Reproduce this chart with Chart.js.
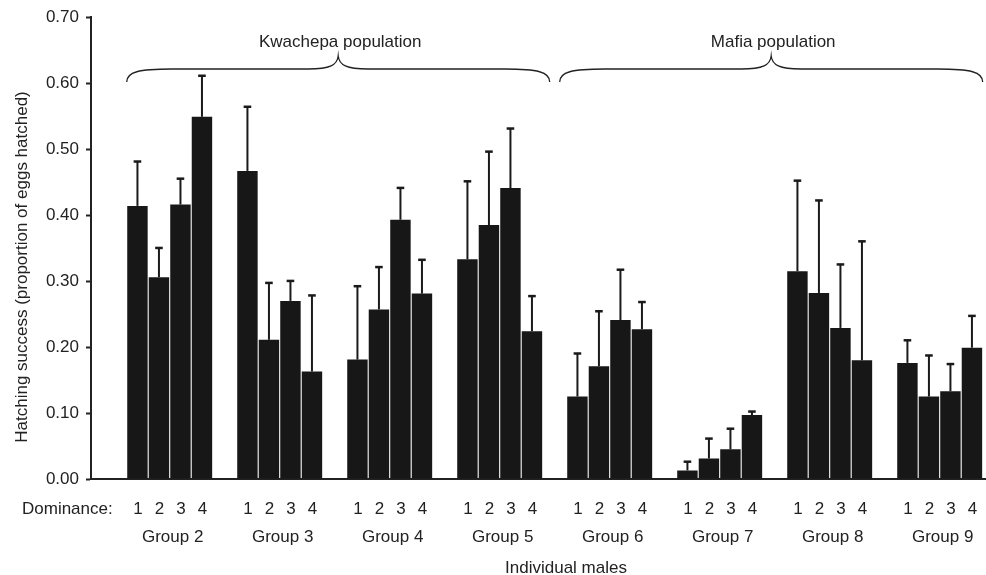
<!DOCTYPE html>
<html>
<head>
<meta charset="utf-8">
<script src="https://cdn.jsdelivr.net/npm/chart.js@4.4.1/dist/chart.umd.min.js"></script>
<style>
  html, body { margin: 0; padding: 0; background: #fff; }
</style>
</head>
<body>
<canvas id="chart" width="986" height="575"></canvas>
<script>
const groups = ["Group 2", "Group 3", "Group 4", "Group 5", "Group 6", "Group 7", "Group 8", "Group 9"]
const dominanceRanks = ["1", "2", "3", "4"]
const populations = ["Kwachepa population", "Mafia population"]
const populationGroups = [[0, 3], [4, 7]]
const yTicks = [0, 0.1, 0.2, 0.3, 0.4, 0.5, 0.6, 0.7]

// mean hatching success per group, one array per dominance rank
const rank1 = [0.414, 0.467, 0.181, 0.333, 0.125, 0.013, 0.315, 0.176]
const rank2 = [0.306, 0.211, 0.257, 0.385, 0.171, 0.031, 0.282, 0.125]
const rank3 = [0.416, 0.270, 0.393, 0.441, 0.241, 0.045, 0.229, 0.133]
const rank4 = [0.549, 0.163, 0.281, 0.224, 0.227, 0.097, 0.180, 0.199]

// upper error (SE)
const se1 = [0.068, 0.098, 0.112, 0.119, 0.066, 0.014, 0.138, 0.035]
const se2 = [0.045, 0.087, 0.065, 0.112, 0.084, 0.031, 0.141, 0.063]
const se3 = [0.040, 0.031, 0.049, 0.091, 0.077, 0.032, 0.097, 0.042]
const se4 = [0.063, 0.116, 0.052, 0.054, 0.042, 0.006, 0.181, 0.049]

const means = [rank1, rank2, rank3, rank4]
const errors = [se1, se2, se3, se4]

const FONT = '"Liberation Sans", Arial, Helvetica, sans-serif'
const INK = "#222"

const annotations = {
  id: "annotations",
  afterDatasetsDraw(chart) {
    const ctx = chart.ctx
    const x = chart.scales.x
    const y = chart.scales.y
    ctx.save()

    // error bars (upper only)
    ctx.strokeStyle = "#1a1a1a"
    means.forEach((values, i) => {
      const meta = chart.getDatasetMeta(i)
      meta.data.forEach((bar, j) => {
        const top = y.getPixelForValue(values[j] + errors[i][j])
        ctx.lineWidth = 2
        ctx.beginPath()
        ctx.moveTo(bar.x, bar.y)
        ctx.lineTo(bar.x, top)
        ctx.stroke()
        ctx.lineWidth = 2.5
        ctx.beginPath()
        ctx.moveTo(bar.x - 3.8, top + 0.5)
        ctx.lineTo(bar.x + 3.8, top + 0.5)
        ctx.stroke()
      })
    })

    // dominance digits under bars
    ctx.fillStyle = INK
    ctx.font = `17px ${FONT}`
    ctx.textBaseline = "alphabetic"
    ctx.textAlign = "center"
    means.forEach((values, i) => {
      chart.getDatasetMeta(i).data.forEach((bar) => {
        ctx.fillText(dominanceRanks[i], bar.x + 0.5, 514)
      })
    })
    ctx.textAlign = "left"
    ctx.fillText("Dominance:", 22, 514)

    // group labels
    ctx.textAlign = "center"
    groups.forEach((g, j) => {
      ctx.fillText(g, x.getPixelForValue(j) + 3, 542)
    })

    ctx.fillText("Individual males", 566, 573)

    // y axis title
    ctx.save()
    ctx.translate(22, 267)
    ctx.rotate(-Math.PI / 2)
    ctx.textBaseline = "middle"
    ctx.fillText("Hatching success (proportion of eggs hatched)", 0, 0)
    ctx.restore()

    // population braces
    ctx.strokeStyle = INK
    ctx.lineWidth = 1.3
    populationGroups.forEach(([a, b], k) => {
      const inner = 50, outer = 43
      const left = x.getPixelForValue(a) - (k === 0 ? outer : inner)
      const right = x.getPixelForValue(b) + (k === 0 ? inner : outer)
      const mid = (left + right) / 2
      const yEnd = 82, yMid = 69, yPeak = 56
      ctx.beginPath()
      ctx.moveTo(left, yEnd)
      ctx.bezierCurveTo(left, yMid + 3, left + 12, yMid, left + 45, yMid)
      ctx.lineTo(mid - 30, yMid)
      ctx.bezierCurveTo(mid - 8, yMid, mid - 1, yMid - 4, mid, yPeak)
      ctx.bezierCurveTo(mid + 1, yMid - 4, mid + 8, yMid, mid + 30, yMid)
      ctx.lineTo(right - 45, yMid)
      ctx.bezierCurveTo(right - 12, yMid, right, yMid + 3, right, yEnd)
      ctx.stroke()
      ctx.fillText(populations[k], mid + 2, 47)
    })

    ctx.restore()
  },
}

const datasets = means.map((values, i) => ({
  label: dominanceRanks[i],
  data: values.map((v, j) => ({ x: j, y: v })),
  backgroundColor: "#171717",
  borderWidth: 0,
  categoryPercentage: 0.782,
  barPercentage: 0.95,
}))

new Chart(document.getElementById("chart"), {
  type: "bar",
  data: { datasets },
  options: {
    responsive: false,
    animation: false,
    layout: { padding: { top: 17, right: 1, left: 0, bottom: 0 } },
    plugins: { legend: { display: false }, tooltip: { enabled: false } },
    scales: {
      x: {
        type: "linear",
        min: -0.7155,
        max: 7.412,
        offset: false,
        afterBuildTicks: (s) => { s.ticks = groups.map((g, j) => ({ value: j })) },
        ticks: { display: false },
        grid: { display: true, drawOnChartArea: false, drawTicks: false },
        border: { color: INK, width: 2 },
        afterFit: (s) => { s.height = 96 },
      },
      y: {
        min: 0,
        max: 0.7,
        afterBuildTicks: (s) => { s.ticks = yTicks.map((v) => ({ value: v })) },
        ticks: {
          callback: (v) => Number(v).toFixed(2),
          font: { size: 17, family: FONT },
          color: INK,
          padding: 7,
        },
        grid: { drawOnChartArea: false, tickLength: 5, tickWidth: 2, tickColor: INK },
        border: { color: INK, width: 2 },
        afterFit: (s) => { s.width = 91 },
      },
    },
  },
  plugins: [annotations],
})
</script>
</body>
</html>
